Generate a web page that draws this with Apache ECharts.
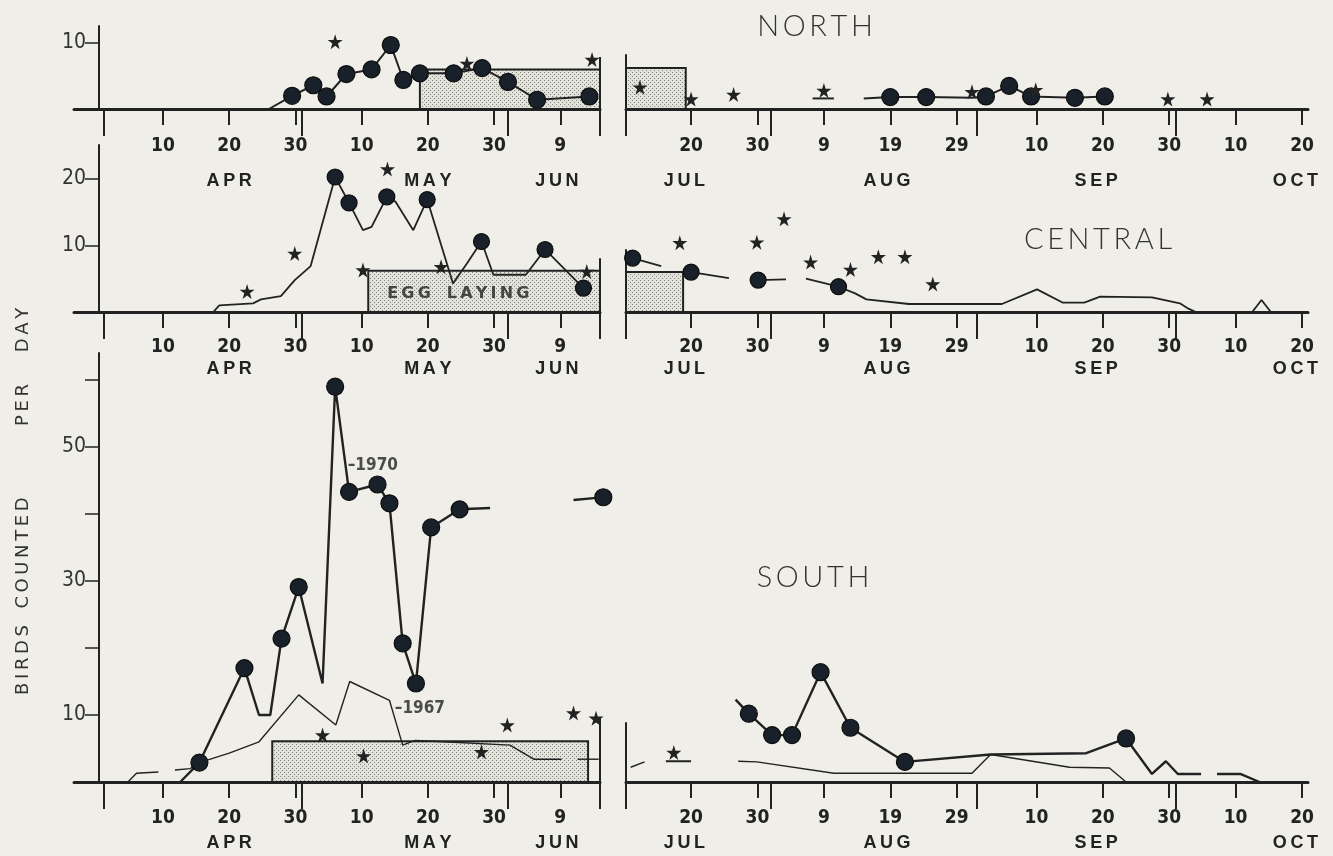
<!DOCTYPE html>
<html><head><meta charset="utf-8">
<script src="https://cdn.jsdelivr.net/npm/echarts@6/dist/echarts.min.js"></script>
<style>html,body{margin:0;padding:0;background:#efeee8;}#c{width:1333px;height:856px;}</style>
</head><body><div id="c"></div>
<script>
// Day index: 1 = Apr 1, 31 = May 1, 62 = Jun 1, 92 = Jul 1, 123 = Aug 1, 154 = Sep 1, 184 = Oct 1
const leftTickDays = [10, 20, 30, 40, 50, 60, 70];
const leftTickLabels = ['10', '20', '30', '10', '20', '30', '9'];
const rightTickDays = [111, 121, 131, 141, 151, 163, 173, 183, 193, 203];
const rightTickLabels = ['20', '30', '9', '19', '29', '10', '20', '30', '10', '20'];
const leftMonthEdges = [1, 31, 62, 76];
const rightMonthEdges = [101.2, 123, 154, 184];
const leftMonthDays = [20, 50, 69.5];
const leftMonthNames = ['APR', 'MAY', 'JUN'];
const rightMonthDays = [110, 140.5, 172, 202];
const rightMonthNames = ['JUL', 'AUG', 'SEP', 'OCT'];
const northYTicks = [10];
const northYLabels = [10];
const centralYTicks = [10, 20];
const centralYLabels = [10, 20];
const southYTicks = [10, 20, 30, 40, 50, 60];
const southYLabels = [10, 30, 50];

// [day, count, circle?]
const northLeftLine = [[26.0,0],[29.5,2.0,1],[32.7,3.6,1],[34.7,1.9,1],[37.7,5.3,1],[41.5,6.0,1],[44.4,9.7,1],[46.3,4.4,1],[48.8,5.4,1],[53.9,5.4,1],[58.2,6.2,1],[62.1,4.1,1],[66.5,1.4,1],[74.4,1.9,1]];
const northLeftStars = [[36.0,10.2],[55.9,6.9],[74.8,7.5]];
const northRightLine = [[137,1.6],[141,1.8,1],[146.4,1.8,1],[153.3,1.7],[155.4,1.9,1],[158.9,3.5,1],[162.2,1.9,1],[168.8,1.7,1],[173.3,1.9,1]];
const northRightBar = [[129.3,1.6],[132.5,1.6]];
const northRightStars = [[103.3,3.3],[111,1.5],[117.4,2.2],[131,2.8],[153.3,2.6],[162.9,2.9],[182.8,1.5],[188.7,1.5]];
const northEgg = [[48.8,76,6.0]];
const northEggRight = [[101.2,110.2,6.2]];
const northEnd = [[76,0],[76,7.9]];

const centralLeftLine = [[17.6,0],[18.5,1.0],[23.6,1.3],[24.8,1.9],[27.8,2.4],[29.9,4.8],[31.4,6.1],[32.3,6.9],[36.0,20.3,1],[38.1,16.4,1],[40.2,12.3],[41.5,12.8],[43.8,17.3,1],[45.1,16.6],[47.8,12.3],[49.9,16.9,1],[53.8,4.3],[55.9,7.3],[58.1,10.6,1],[59.9,5.6],[64.8,5.6],[67.7,9.4,1],[73.5,3.6,1]];
const centralLeftStars = [[22.7,3.1],[29.9,8.8],[40.2,6.3],[43.9,21.5],[52.0,6.8],[74.0,6.1]];
const centralRightSeg1 = [[102.2,8.1,1],[106.5,6.9]];
const centralRightSeg2 = [[111.0,6.0,1],[116.7,5.1]];
const centralRightSeg3 = [[121.1,4.8,1],[125.3,4.9]];
const centralRightSeg4 = [[128.3,5.0],[133.2,3.8,1],[135.7,2.8],[137.4,1.9],[143.8,1.2],[157.8,1.2],[163.1,3.4],[167.0,1.4],[170.2,1.4],[172.6,2.3],[180.4,2.2],[184.6,1.3],[185.9,0.5],[187,0]];
const centralRightSeg5 = [[195.5,0],[196.9,1.8],[198.3,0]];
const centralRightStars = [[109.3,10.4],[120.9,10.5],[125.0,14.0],[129.0,7.5],[135.0,6.4],[139.2,8.3],[143.2,8.3],[147.4,4.2]];
const centralEgg = [[41.0,76,6.2]];
const centralEggRight = [[101.2,109.8,6.0]];
const centralEnd = [[76,0],[76,8.1]];

const south1970Left = [[12.6,0],[15.5,2.9,1],[22.3,17.0,1],[24.5,10.0],[26.2,10.0],[27.9,21.4,1],[30.5,29.1,1],[34.1,14.7],[36.0,59.0,1],[38.1,43.3,1],[42.4,44.4,1],[44.2,41.6,1],[46.2,20.7,1],[48.2,14.7,1],[50.5,38.0,1],[54.8,40.7,1],[59.4,40.9]];
const south1970LeftB = [[72.0,42.1],[76.5,42.5,1]];
const south1967LeftA = [[4.7,0],[6.0,1.3],[9.3,1.5]];
const south1967LeftB = [[11.8,1.8],[14.1,2.0],[15.5,2.9],[20.0,4.3],[24.5,6.0],[30.5,13.0],[36.1,8.5],[38.2,15.0],[44.2,12.2],[46.2,5.5],[48.1,6.2],[52.3,6.0],[62.4,5.5],[66.0,3.4],[70.2,3.4]];
const south1967LeftC = [[72.6,3.4],[75.8,3.4]];
const southLeftStars = [[34.1,7.0],[40.3,3.9],[58.1,4.5],[62.0,8.5],[72.0,10.3],[75.4,9.5]];
const southEgg = [[26.5,74.2,6.1]];
const southEnd = [[76,0],[76,9.7]];
const south1970Right = [[117.7,12.3],[119.7,10.2,1],[123.2,7.0,1],[126.2,7.0,1],[130.5,16.4,1],[135.0,8.1,1],[143.2,3.0,1],[156.1,4.1],[170.5,4.3],[176.5,6.5,1],[180.4,1.2],[182.5,3.1],[184.3,1.2],[187.8,1.2]];
const south1970RightB = [[190.2,1.2],[193.7,1.2],[196.6,0]];
const south1967Right = [[118.1,3.1],[120.9,3.0],[132.5,1.3],[153.3,1.3],[156.1,4.1],[168.0,2.2],[174.0,2.1],[176.5,0]];
const southRightDash = [[101.9,2.2],[104,3.0]];
const southRightBar = [[107.2,3.1],[111.0,3.1]];
const southRightStars = [[108.4,4.4]];
const label1970 = [37.9, 47.2];
const label1967 = [45.0, 11.0];
const labelEgg = [54.6, 2.7];

// ---------------- drawing ----------------
const INK = '#222222';
const DOT = '#18202a';
const COND = "'Liberation Sans Narrow','DejaVu Sans Condensed','Liberation Sans',sans-serif";
const STAR = 'path://M50,0 L61,35 L98,35 L68,57 L79,91 L50,70 L21,91 L32,57 L2,35 L39,35 Z';

function makePattern() {
  const c = document.createElement('canvas'); c.width = 4; c.height = 4;
  const x = c.getContext('2d');
  x.fillStyle = '#e2e1da'; x.fillRect(0, 0, 4, 4);
  x.fillStyle = '#85857f'; x.fillRect(0, 0, 1, 1); x.fillRect(2, 2, 1, 1);
  return c;
}
const PAT = makePattern();

const grids = [
  {left: 74, top: 26, width: 526, height: 83, xmin: -3.44, xmax: 76, ymax: 12.58, side: 'L', row: 0},
  {left: 626, top: 55, width: 682, height: 54, xmin: 101.2, xmax: 203.9, ymax: 8.18, side: 'R', row: 0},
  {left: 74, top: 145, width: 526, height: 167, xmin: -3.44, xmax: 76, ymax: 25.11, side: 'L', row: 1},
  {left: 626, top: 250, width: 682, height: 62, xmin: 101.2, xmax: 203.9, ymax: 9.32, side: 'R', row: 1},
  {left: 74, top: 353, width: 526, height: 429, xmin: -3.44, xmax: 76, ymax: 64.03, side: 'L', row: 2},
  {left: 626, top: 723, width: 682, height: 59, xmin: 101.2, xmax: 203.9, ymax: 8.81, side: 'R', row: 2}
];
const tickMargin = [27, 25, 26];
const monthMargin = [62, 47, 51];
const yTicks = [northYTicks, centralYTicks, southYTicks];
const yLabels = [northYLabels, centralYLabels, southYLabels];

const xAxis = [], yAxis = [], series = [];
grids.forEach((g, i) => {
  const L = g.side === 'L';
  const tDays = L ? leftTickDays : rightTickDays;
  const tLabs = L ? leftTickLabels : rightTickLabels;
  const mDays = L ? leftMonthDays : rightMonthDays;
  const mNames = L ? leftMonthNames : rightMonthNames;
  xAxis.push({
    type: 'value', gridIndex: i, min: g.xmin, max: g.xmax, position: 'bottom',
    axisLine: {show: true, onZero: false, lineStyle: {color: INK, width: 3}},
    axisTick: {show: true, customValues: tDays, length: 16, lineStyle: {color: INK, width: 2}},
    axisLabel: {show: true, customValues: tDays, margin: tickMargin[g.row], formatter: v => tLabs[tDays.indexOf(v)] || '',
      fontFamily: COND, fontWeight: 'bold', fontSize: 19, lineHeight: 20, color: INK},
    splitLine: {show: false}
  });
  xAxis.push({
    type: 'value', gridIndex: i, min: g.xmin, max: g.xmax, position: 'bottom',
    axisLine: {show: false, onZero: false},
    axisTick: {show: true, customValues: L ? leftMonthEdges : rightMonthEdges, length: 27, lineStyle: {color: INK, width: 2}},
    axisLabel: {show: true, customValues: mDays, margin: monthMargin[g.row],
      formatter: v => (mNames[mDays.indexOf(v)] || '').split('').join('\u2009'),
      fontFamily: "'Liberation Sans','DejaVu Sans',sans-serif", fontWeight: 'bold', fontSize: 18, lineHeight: 20, color: INK},
    splitLine: {show: false}
  });
  yAxis.push(L ? {
    type: 'value', gridIndex: i, min: 0, max: g.ymax, offset: -25,
    axisLine: {show: true, onZero: false, lineStyle: {color: INK, width: 2}},
    axisTick: {show: true, customValues: yTicks[g.row], length: 14, lineStyle: {color: INK, width: 1.5}},
    axisLabel: {show: true, customValues: yLabels[g.row], margin: 13, padding: [0, 0, 14, 0], verticalAlign: 'middle',
      fontFamily: COND, fontSize: 21, color: '#333'},
    splitLine: {show: false}
  } : {
    type: 'value', gridIndex: i, min: 0, max: g.ymax,
    axisLine: {show: true, onZero: false, lineStyle: {color: INK, width: 2}},
    axisTick: {show: false}, axisLabel: {show: false}, splitLine: {show: false}
  });
});

function line(g, pts, w, color) {
  series.push({type: 'line', xAxisIndex: 2 * g, yAxisIndex: g, data: pts.map(p => [p[0], p[1]]),
    symbol: 'none', showSymbol: false, clip: false, silent: true, z: 3,
    lineStyle: {color: color || INK, width: w}});
}
function circles(g, pts, size) {
  series.push({type: 'scatter', xAxisIndex: 2 * g, yAxisIndex: g,
    data: pts.filter(p => p[2]).map(p => [p[0], p[1]]), symbol: 'circle', symbolSize: size || 17,
    clip: false, silent: true, z: 5, itemStyle: {color: DOT, opacity: 1, borderColor: '#0d0d0d', borderWidth: 1.2}});
}
function stars(g, pts) {
  series.push({type: 'scatter', xAxisIndex: 2 * g, yAxisIndex: g, data: pts, symbol: STAR, symbolSize: 15,
    clip: false, silent: true, z: 6, itemStyle: {color: INK, opacity: 1}});
}
function boxes(g, b) {
  series.push({type: 'custom', xAxisIndex: 2 * g, yAxisIndex: g, data: b, clip: false, silent: true, z: 1,
    renderItem: (params, api) => {
      const p0 = api.coord([api.value(0), 0]);
      const p1 = api.coord([api.value(1), api.value(2)]);
      return {type: 'rect', shape: {x: p0[0], y: p1[1], width: p1[0] - p0[0], height: p0[1] - p1[1]},
        style: {fill: {image: PAT, repeat: 'repeat'}, stroke: INK, lineWidth: 2}};
    }});
}
function label(g, pt, text, opt) {
  series.push({type: 'scatter', xAxisIndex: 2 * g, yAxisIndex: g, data: [pt], symbolSize: 0, clip: false, silent: true, z: 8,
    label: Object.assign({show: true, formatter: text, color: INK}, opt)});
}

// North
boxes(0, northEgg); line(0, northEnd, 2);
line(0, northLeftLine, 2); circles(0, northLeftLine, 17); stars(0, northLeftStars);
boxes(1, northEggRight);
line(1, northRightLine, 2); line(1, northRightBar, 2); circles(1, northRightLine, 17); stars(1, northRightStars);
// Central
boxes(2, centralEgg); line(2, centralEnd, 2);
line(2, centralLeftLine, 1.8); circles(2, centralLeftLine, 16); stars(2, centralLeftStars);
label(2, labelEgg, 'E\u2009G\u2009G\u2003L\u2009A\u2009Y\u2009I\u2009N\u2009G', {position: 'inside', fontFamily: "'DejaVu Sans',sans-serif", fontWeight: 'bold', fontSize: 16});
boxes(3, centralEggRight);
[centralRightSeg1, centralRightSeg2, centralRightSeg3, centralRightSeg4, centralRightSeg5].forEach(s => { line(3, s, 1.8); circles(3, s, 16); });
stars(3, centralRightStars);
// South
boxes(4, southEgg); line(4, southEnd, 2);
line(4, south1967LeftA, 1.4); line(4, south1967LeftB, 1.4); line(4, south1967LeftC, 1.4);
line(4, south1970Left, 2.4); line(4, south1970LeftB, 2.4);
circles(4, south1970Left, 17); circles(4, south1970LeftB, 17); stars(4, southLeftStars);
label(4, label1970, '\u20131970', {position: 'right', distance: 0, fontFamily: COND, fontWeight: 'bold', fontSize: 17});
label(4, label1967, '\u20131967', {position: 'right', distance: 0, fontFamily: COND, fontWeight: 'bold', fontSize: 17});
line(5, south1967Right, 1.4); line(5, south1970Right, 2.4); line(5, south1970RightB, 2.4);
line(5, southRightDash, 1.4); line(5, southRightBar, 2);
circles(5, south1970Right, 17); stars(5, southRightStars);

const TITLE_FONT = "300 29px Lato, 'Open Sans', 'DejaVu Sans', sans-serif";
const YT_FONT = "18px 'DejaVu Sans', sans-serif";
function spaced(s) { return s.split('').join('\u2009'); }
const graphic = [
  {type: 'text', x: 815, y: 27, style: {text: spaced('NORTH'), font: TITLE_FONT, fill: '#333', align: 'center', verticalAlign: 'middle'}},
  {type: 'text', x: 1098, y: 240, style: {text: spaced('CENTRAL'), font: TITLE_FONT, fill: '#333', align: 'center', verticalAlign: 'middle'}},
  {type: 'text', x: 813, y: 578, style: {text: spaced('SOUTH'), font: TITLE_FONT, fill: '#333', align: 'center', verticalAlign: 'middle'}},
  {type: 'text', x: 23, y: 660, rotation: Math.PI / 2, style: {text: spaced('BIRDS'), font: YT_FONT, fill: '#333', align: 'center', verticalAlign: 'middle'}},
  {type: 'text', x: 23, y: 553, rotation: Math.PI / 2, style: {text: spaced('COUNTED'), font: YT_FONT, fill: '#333', align: 'center', verticalAlign: 'middle'}},
  {type: 'text', x: 23, y: 405, rotation: Math.PI / 2, style: {text: spaced('PER'), font: YT_FONT, fill: '#333', align: 'center', verticalAlign: 'middle'}},
  {type: 'text', x: 23, y: 330, rotation: Math.PI / 2, style: {text: spaced('DAY'), font: YT_FONT, fill: '#333', align: 'center', verticalAlign: 'middle'}}
];

const chart = echarts.init(document.getElementById('c'), null, {renderer: 'canvas'});
chart.setOption({
  backgroundColor: '#efeee8',
  animation: false,
  grid: grids.map(g => ({left: g.left, top: g.top, width: g.width, height: g.height, containLabel: false, outerBoundsMode: 'none'})),
  xAxis, yAxis, series, graphic
});
</script></body></html>
